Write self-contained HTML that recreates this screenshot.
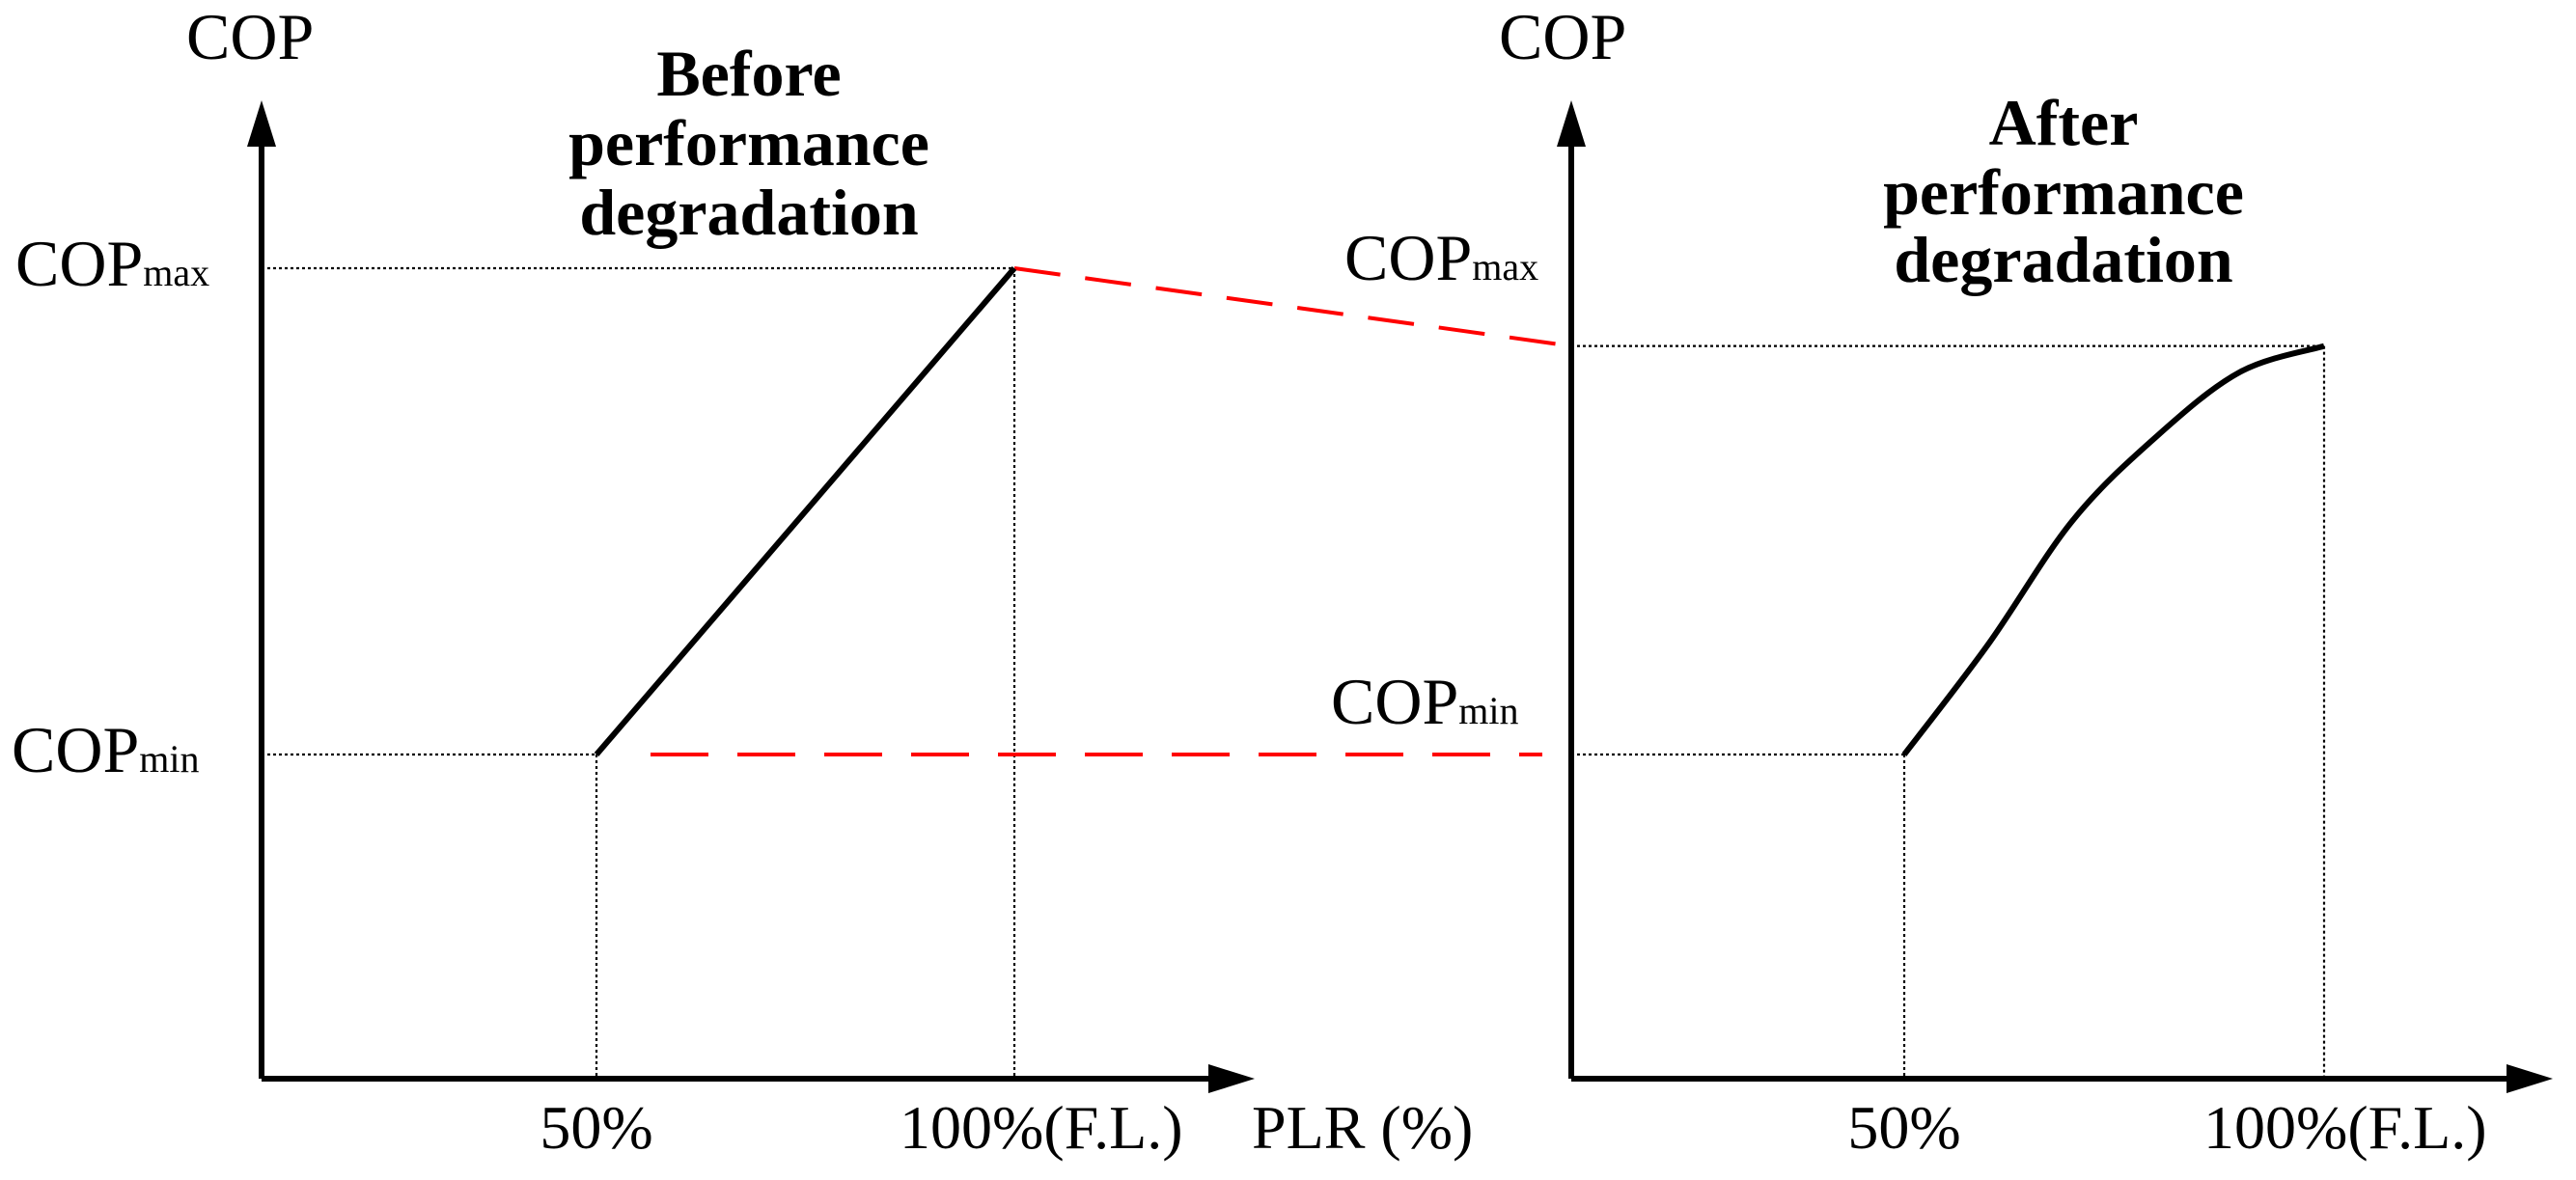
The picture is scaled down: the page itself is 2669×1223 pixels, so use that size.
<!DOCTYPE html>
<html><head><meta charset="utf-8">
<style>
html,body{margin:0;padding:0;background:#fff;}
svg{display:block;}
text{font-family:"Liberation Serif",serif;fill:#000;}
</style></head>
<body>
<svg id="chart" width="2669" height="1223" viewBox="0 0 2669 1223" xmlns="http://www.w3.org/2000/svg">
<g id="g"></g>
</svg>
<script>
// data
const plrTicks = [50, 100];
const plrTickLabels = ["50%", "100%(F.L.)"];
const copMinValue = 2.0;
const copMaxBefore = 5.0;
const copMaxAfter = 4.52;
const beforePLR = [50, 100];
const beforeCOP = [2.0, 5.0];
const afterPLR = [50, 60, 70, 80, 90, 100];
const afterCOP = [2.0, 2.68, 3.44, 3.96, 4.36, 4.52];

const NS = "http://www.w3.org/2000/svg";
const g = document.getElementById('g');
function el(tag, attrs, parent){const e=document.createElementNS(NS,tag);for(const k in attrs)e.setAttribute(k,attrs[k]);(parent||g).appendChild(e);return e;}

const yBase = 1118;
const yPer = 168;
function yS(v){return yBase - v*yPer;}
function xL(p){return 618 + (p-50)*(1051-618)/50;}
function xR(p){return 1973 + (p-50)*(2408-1973)/50;}
const axL = 271, axR = 1628;

function axes(ax, tipX, name){
  let l=el('line',{x1:ax,y1:yBase,x2:ax,y2:128,stroke:'#000','stroke-width':6});
  
  
  let a=el('polygon',{points:`${ax},104 ${ax-15},152 ${ax+15},152`,fill:'#000'});
  
  
  let x=el('line',{x1:ax,y1:yBase,x2:tipX-40,y2:yBase,stroke:'#000','stroke-width':6});
  
  
  let b=el('polygon',{points:`${tipX},${yBase} ${tipX-48},${yBase-15} ${tipX-48},${yBase+15}`,fill:'#000'});
  
  
}
axes(axL,1300,'left');
axes(axR,2645,'right');

function dotted(x1,y1,x2,y2,name){
  const d=el('line',{x1,y1,x2,y2,stroke:'#000','stroke-width':2.2,'stroke-dasharray':'3 3'});
  
  
}
dotted(axL, yS(copMaxBefore), xL(100), yS(copMaxBefore), 'left-copmax-guide');
dotted(axL, yS(copMinValue), xL(50), yS(copMinValue), 'left-copmin-guide');
dotted(xL(50), yS(copMinValue), xL(50), yBase, 'left-50-guide');
dotted(xL(100), yS(copMaxBefore), xL(100), yBase, 'left-100-guide');
dotted(axR, yS(copMaxAfter), xR(100), yS(copMaxAfter), 'right-copmax-guide');
dotted(axR, yS(copMinValue), xR(50), yS(copMinValue), 'right-copmin-guide');
dotted(xR(50), yS(copMinValue), xR(50), yBase, 'right-50-guide');
dotted(xR(100), yS(copMaxAfter), xR(100), yBase, 'right-100-guide');

let r1=el('line',{x1:xL(100),y1:yS(copMaxBefore),x2:axR,y2:yS(copMaxAfter),stroke:'#f00','stroke-width':4,'stroke-dasharray':'48 26'});


let r2=el('line',{x1:674,y1:yS(copMinValue),x2:1598,y2:yS(copMinValue),stroke:'#f00','stroke-width':4,'stroke-dasharray':'60 30'});



let pb = beforePLR.map((p,i)=>[xL(p), yS(beforeCOP[i])]);
let bl=el('polyline',{points:pb.map(p=>p.join(',')).join(' '),fill:'none',stroke:'#000','stroke-width':6});



let pa = afterPLR.map((p,i)=>[xR(p), yS(afterCOP[i])]);
let d=`M${pa[0][0]},${pa[0][1]}`;
for(let i=0;i<pa.length-1;i++){
  const p0=pa[Math.max(i-1,0)],p1=pa[i],p2=pa[i+1],p3=pa[Math.min(i+2,pa.length-1)];
  const c1=[p1[0]+(p2[0]-p0[0])/6,p1[1]+(p2[1]-p0[1])/6];
  const c2=[p2[0]-(p3[0]-p1[0])/6,p2[1]-(p3[1]-p1[1])/6];
  d+=` C${c1[0]},${c1[1]} ${c2[0]},${c2[1]} ${p2[0]},${p2[1]}`;
}
let ac=el('path',{d,fill:'none',stroke:'#000','stroke-width':6,'stroke-linejoin':'round'});



function txt(x,y,s,size,name,opts){
  const t=el('text',Object.assign({x,y,'font-size':size},opts||{}));
  t.textContent=s;
  
  
  return t;
}
function copLabel(x,y,sub,name){
  const t=el('text',{x,y,'font-size':68});
  
  
  const a=el('tspan',{},t);a.textContent='COP';
  const b=el('tspan',{'font-size':40},t);b.textContent=sub;
}
plrTicks.forEach((p,i)=>{
  const anchor = i===0 ? 'middle' : 'start';
  txt(i===0?xL(p):932, 1190, plrTickLabels[i], 64, 'left-x-tick-'+p, {'text-anchor':anchor});
  txt(i===0?xR(p):2283, 1190, plrTickLabels[i], 64, 'right-x-tick-'+p, {'text-anchor':anchor});
});
txt(1297,1190,'PLR (%)',64,'x-axis-title');
txt(193,61,'COP',68,'left-y-axis-title');
txt(1553,61,'COP',68,'right-y-axis-title');
copLabel(16,296,'max','left-copmax-label');
copLabel(12,800,'min','left-copmin-label');
copLabel(1393,290,'max','right-copmax-label');
copLabel(1379,750,'min','right-copmin-label');
[['Before',99],['performance',171],['degradation',243]].forEach(([s,y],i)=>txt(776,y,s,68,'before-title-line-'+(i+1),{'text-anchor':'middle','font-weight':'bold'}));
[['After',150],['performance',222],['degradation',292]].forEach(([s,y],i)=>txt(2138,y,s,68,'after-title-line-'+(i+1),{'text-anchor':'middle','font-weight':'bold'}));
</script>
</body></html>
